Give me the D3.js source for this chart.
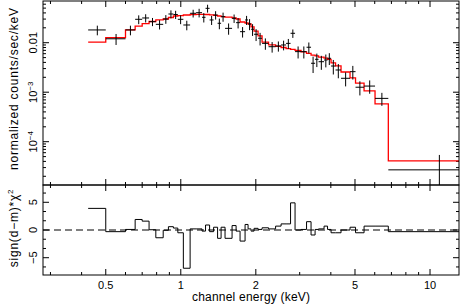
<!DOCTYPE html>
<html>
<head>
<meta charset="utf-8">
<script src="https://cdn.jsdelivr.net/npm/d3@7"></script>
<style>
html, body { margin: 0; padding: 0; background: #fff; }
svg text { font-family: "Liberation Sans", Arial, sans-serif; fill: #000; }
</style>
</head>
<body>
<svg id="chart" width="460" height="308"></svg>
<script>
// bin edges (keV), one more than the number of bins
const edges = [0.425, 0.50, 0.60, 0.656, 0.70, 0.746, 0.794, 0.85, 0.892, 0.934, 0.973, 1.024,
  1.09, 1.152, 1.217, 1.257, 1.305, 1.354, 1.405, 1.451, 1.505, 1.606, 1.667, 1.729, 1.811,
  1.862, 1.914, 1.968, 2.042, 2.119, 2.25, 2.401, 2.526, 2.645, 2.757, 2.874, 3.038, 3.196,
  3.332, 3.458, 3.571, 3.757, 3.88, 4.008, 4.178, 4.395, 4.776, 5.025, 5.437, 6.017, 6.803, 15.0];
// data (counts/sec/keV)
const flux = [0.0181, 0.0120, 0.0181, 0.0297, 0.0316, 0.0266, 0.0235, 0.0301, 0.0380, 0.0371,
  0.0297, 0.0228, 0.0393, 0.0404, 0.0326, 0.0495, 0.0288, 0.0363, 0.0247, 0.0335, 0.0195,
  0.0311, 0.0254, 0.0167, 0.0288, 0.0239, 0.0187, 0.0148, 0.0123, 0.0097, 0.0083, 0.0086,
  0.0090, 0.0097, 0.0155, 0.0066, 0.0066, 0.0081, 0.00384, 0.00462, 0.00413, 0.00447, 0.00484,
  0.00338, 0.00281, 0.00191, 0.0026, 0.00126, 0.00133, 0.00075, 2.7e-5];
const fluxErr = [0.004, 0.003, 0.004, 0.006, 0.006, 0.005, 0.005, 0.006, 0.007, 0.007,
  0.006, 0.005, 0.007, 0.008, 0.007, 0.009, 0.006, 0.007, 0.006, 0.007, 0.005,
  0.006, 0.006, 0.004, 0.006, 0.006, 0.005, 0.004, 0.0035, 0.0025, 0.002, 0.002,
  0.002, 0.0022, 0.003, 0.0018, 0.0018, 0.002, 0.0014, 0.0014, 0.0013, 0.0013, 0.0013,
  0.0011, 0.0009, 0.0006, 0.0008, 0.0004, 0.0004, 0.00022, 2.7e-5];
// folded model
const model = [0.0103, 0.0127, 0.0181, 0.0217, 0.0244, 0.0268, 0.0288, 0.0301, 0.0323, 0.0346,
  0.0354, 0.0363, 0.0371, 0.0375, 0.0375, 0.0371, 0.0366, 0.0358, 0.0346, 0.0338, 0.0330,
  0.0316, 0.0301, 0.0262, 0.0250, 0.0239, 0.0208, 0.0172, 0.0137, 0.0103, 0.0090, 0.0084,
  0.0080, 0.0076, 0.0073, 0.0070, 0.0065, 0.0061, 0.0056, 0.0054, 0.0051, 0.0049, 0.0046,
  0.0039, 0.0034, 0.00256, 0.00194, 0.00153, 0.00106, 0.00058, 4.1e-5];
// sign(d-m)*chi^2
const resid = [3.9, -0.3, 0.1, 1.9, 1.6, 0.05, -1.4, -0.05, 0.6, 0.35, -0.5, -6.9, 0.2, 0.2,
  -0.2, 0.9, -0.3, 0.5, -1.5, 0.5, -1.5, 0.8, -0.2, -2.0, 1.0, 0.2, -0.2, 0.3, 0.1, 0.4,
  0.2, 0.7, 1.1, 1.1, 4.9, 0, 0.1, 1.5, -0.9, 0.1, 0.2, 0.7, 0.1, -0.5, -0.5, 0, 0.5,
  -0.5, 0.7, 0.7, -0.3];

const xMajor = [0.5, 1, 2, 5, 10];
const xLabels = ["0.5", "1", "2", "5", "10"];
const yMajor = [1e-2, 1e-3, 1e-4];
const yLabels = [["0.01", ""], ["10", "\u22123"], ["10", "\u22124"]];
const rMajor = [5, 0, -5];
const rLabels = ["5", "0", "\u22125"];
const rMinor = [-20 / 3, -10 / 3, -5 / 3, 5 / 3, 10 / 3, 20 / 3];

const L = 43, R = 459, T = 1, MID = 185, B = 275;

const svg = d3.select("#chart");
const x = d3.scaleLog().domain([0.28, 13.07]).range([L, R]);
const yUp = d3.scaleLog().domain([1.334e-5, 0.0696]).range([MID, T]);
const yRes = d3.scaleLinear().domain([-8.12, 8.12]).range([B, MID]);

const defs = svg.append("defs");
defs.append("clipPath").attr("id", "clipUp").append("rect")
  .attr("x", L).attr("y", T).attr("width", R - L).attr("height", MID - T);
defs.append("clipPath").attr("id", "clipRes").append("rect")
  .attr("x", L).attr("y", MID).attr("width", R - L).attr("height", B - MID);

const bins = flux.map((v, i) => ({
  lo: edges[i], hi: edges[i + 1], v: v, e: fluxErr[i], m: model[i], r: resid[i]
}));

// ---- ticks ----
const xMinor = x.ticks().filter(t => !xMajor.includes(t));
const yMinor = yUp.ticks().filter(t => !yMajor.some(m => Math.abs(t / m - 1) < 1e-6));

function xTicks(yPos, dir) {
  const g = svg.append("g").attr("stroke", "#000").attr("stroke-width", 1);
  g.selectAll(".mj").data(xMajor).enter().append("line")
    .attr("x1", d => x(d)).attr("x2", d => x(d))
    .attr("y1", yPos).attr("y2", yPos + dir * 6);
  g.selectAll(".mn").data(xMinor).enter().append("line")
    .attr("x1", d => x(d)).attr("x2", d => x(d))
    .attr("y1", yPos).attr("y2", yPos + dir * 3);
}
xTicks(T, 1); xTicks(MID, -1); xTicks(MID, 1); xTicks(B, -1);

function yTicks(scale, majors, minors) {
  const g = svg.append("g").attr("stroke", "#000").attr("stroke-width", 1);
  [[L, 1], [R, -1]].forEach(([xp, dir]) => {
    g.selectAll(null).data(majors).enter().append("line")
      .attr("x1", xp).attr("x2", xp + dir * 6)
      .attr("y1", d => scale(d)).attr("y2", d => scale(d));
    g.selectAll(null).data(minors).enter().append("line")
      .attr("x1", xp).attr("x2", xp + dir * 3)
      .attr("y1", d => scale(d)).attr("y2", d => scale(d));
  });
}
yTicks(yUp, yMajor, yMinor);
yTicks(yRes, rMajor, rMinor);

// ---- upper panel: model + data ----
const up = svg.append("g").attr("clip-path", "url(#clipUp)");
const stepLine = sc => d3.line()
  .x(d => x(d.e)).y(d => sc(d.val)).curve(d3.curveStepAfter);
const modelPts = bins.map(b => ({ e: b.lo, val: b.m }))
  .concat([{ e: edges[edges.length - 1], val: model[model.length - 1] }]);
up.append("path").datum(modelPts)
  .attr("d", stepLine(yUp))
  .attr("fill", "none").attr("stroke", "#ff0000").attr("stroke-width", 1.3);

const crosses = up.append("g").attr("stroke", "#000").attr("stroke-width", 1);
crosses.selectAll(".h").data(bins).enter().append("line")
  .attr("x1", d => x(d.lo)).attr("x2", d => x(d.hi))
  .attr("y1", d => yUp(d.v)).attr("y2", d => yUp(d.v));
crosses.selectAll(".v").data(bins).enter().append("line")
  .attr("x1", d => x((d.lo + d.hi) / 2)).attr("x2", d => x((d.lo + d.hi) / 2))
  .attr("y1", d => d.v - d.e > 0 ? yUp(d.v - d.e) : MID + 5)
  .attr("y2", d => yUp(d.v + d.e));

// ---- residual panel ----
const res = svg.append("g").attr("clip-path", "url(#clipRes)");
res.append("line")
  .attr("x1", L).attr("x2", R).attr("y1", yRes(0)).attr("y2", yRes(0))
  .attr("stroke", "#000").attr("stroke-width", 1).attr("stroke-dasharray", "7,4");
const resPts = bins.map(b => ({ e: b.lo, val: b.r }))
  .concat([{ e: edges[edges.length - 1], val: resid[resid.length - 1] }]);
res.append("path").datum(resPts)
  .attr("d", stepLine(yRes))
  .attr("fill", "none").attr("stroke", "#000").attr("stroke-width", 1);

// frames
svg.append("rect").attr("x", L).attr("y", T).attr("width", R - L).attr("height", MID - T)
  .attr("fill", "none").attr("stroke", "#000").attr("stroke-width", 1);
svg.append("rect").attr("x", L).attr("y", MID).attr("width", R - L).attr("height", B - MID)
  .attr("fill", "none").attr("stroke", "#000").attr("stroke-width", 1);

// ---- labels ----
svg.selectAll(".xl").data(xMajor).enter().append("text")
  .attr("x", d => x(d)).attr("y", 289)
  .attr("text-anchor", "middle").attr("font-size", 11)
  .text((d, i) => xLabels[i]);

yMajor.forEach((v, i) => {
  const t = svg.append("text")
    .attr("transform", `translate(37,${yUp(v)}) rotate(-90)`)
    .attr("text-anchor", "middle").attr("font-size", 11);
  t.append("tspan").text(yLabels[i][0]);
  if (yLabels[i][1]) {
    t.append("tspan").attr("dy", -4).attr("font-size", 8).text(yLabels[i][1]);
  }
});
rMajor.forEach((v, i) => {
  svg.append("text")
    .attr("transform", `translate(37,${yRes(v)}) rotate(-90)`)
    .attr("text-anchor", "middle").attr("font-size", 11)
    .text(rLabels[i]);
});

svg.append("text")
  .attr("x", 251).attr("y", 301).attr("text-anchor", "middle").attr("font-size", 12)
  .attr("textLength", 118).attr("lengthAdjust", "spacing")
  .text("channel energy (keV)");
svg.append("text")
  .attr("transform", "translate(18,89) rotate(-90)")
  .attr("text-anchor", "middle").attr("font-size", 12)
  .attr("textLength", 162).attr("lengthAdjust", "spacing")
  .text("normalized counts/sec/keV");
const rt = svg.append("text")
  .attr("transform", "translate(18,228) rotate(-90)")
  .attr("text-anchor", "middle").attr("font-size", 12)
  .attr("letter-spacing", 0.8);
rt.append("tspan").text("sign(d\u2212m)*\u03c7");
rt.append("tspan").attr("dy", -5).attr("font-size", 8).text("2");
</script>
</body>
</html>
